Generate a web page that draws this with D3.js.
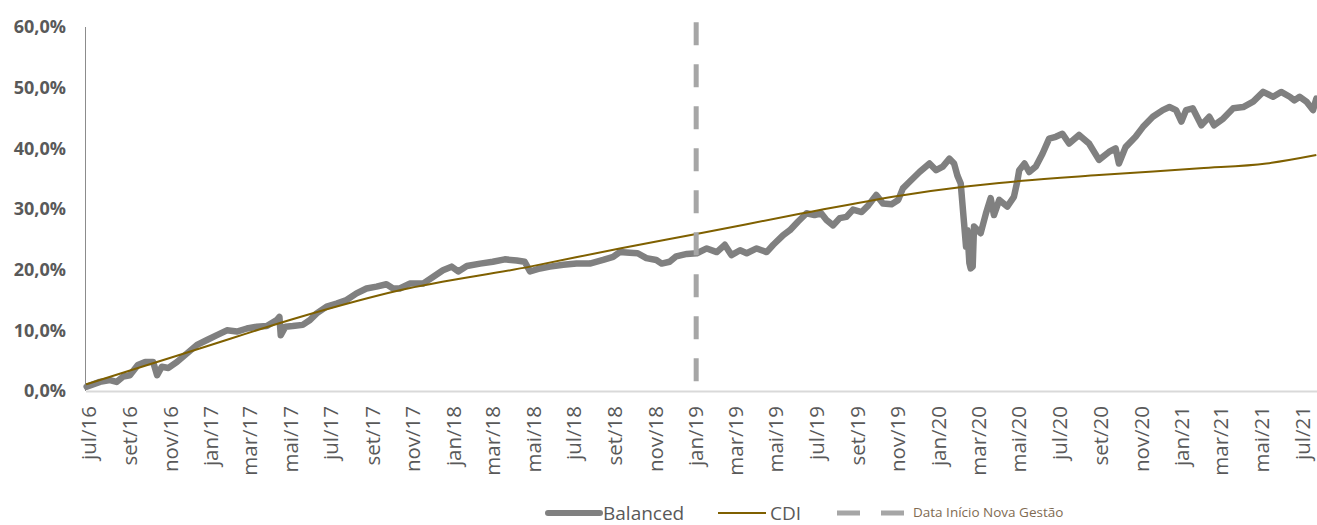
<head>
  <script src="https://d3js.org/d3.v7.min.js"></script>
</head>
<style>
  body { margin: 0; background: #fff; }
  text { font-family: "Open Sans", "Noto Sans", sans-serif; }
</style>
<body>
  <svg id="chart"></svg>
</body>
<script>
  var w = 1317;
  var h = 525;

  // values (cumulative return, %)
  var balanced = [
    ["2016-06-28", 0.7], ["2016-07-18", 1.5], ["2016-08-02", 1.8], ["2016-08-12", 1.5],
    ["2016-08-22", 2.4], ["2016-09-01", 2.6], ["2016-09-13", 4.3], ["2016-09-24", 4.8],
    ["2016-10-06", 4.8], ["2016-10-12", 2.6], ["2016-10-19", 4.0], ["2016-10-29", 3.8],
    ["2016-11-11", 4.8], ["2016-11-26", 6.2], ["2016-12-11", 7.6], ["2016-12-26", 8.4],
    ["2017-01-10", 9.2], ["2017-01-25", 10.0], ["2017-02-09", 9.8], ["2017-02-24", 10.3],
    ["2017-03-11", 10.6], ["2017-03-26", 10.7], ["2017-04-10", 11.7], ["2017-04-14", 12.2],
    ["2017-04-16", 9.2], ["2017-04-23", 10.6], ["2017-05-04", 10.7], ["2017-05-19", 10.9],
    ["2017-05-30", 11.7], ["2017-06-09", 12.8], ["2017-06-24", 13.9], ["2017-07-09", 14.4],
    ["2017-07-24", 15.0], ["2017-08-08", 16.1], ["2017-08-23", 16.9], ["2017-09-07", 17.2],
    ["2017-09-22", 17.6], ["2017-10-02", 16.9], ["2017-10-12", 16.9], ["2017-10-27", 17.7],
    ["2017-11-16", 17.7], ["2017-12-01", 18.8], ["2017-12-16", 19.9], ["2017-12-29", 20.5],
    ["2018-01-08", 19.7], ["2018-01-21", 20.6], ["2018-02-10", 21.0], ["2018-03-01", 21.3],
    ["2018-03-19", 21.7], ["2018-04-06", 21.5], ["2018-04-18", 21.3], ["2018-04-26", 19.7],
    ["2018-05-11", 20.2], ["2018-05-26", 20.5], ["2018-06-15", 20.8], ["2018-07-05", 21.0],
    ["2018-07-25", 21.0], ["2018-08-14", 21.6], ["2018-08-29", 22.1], ["2018-09-08", 22.9],
    ["2018-09-23", 22.8], ["2018-10-05", 22.7], ["2018-10-18", 21.9], ["2018-11-02", 21.6],
    ["2018-11-10", 21.0], ["2018-11-22", 21.3], ["2018-12-02", 22.2], ["2018-12-18", 22.6],
    ["2019-01-02", 22.7], ["2019-01-17", 23.5], ["2019-02-01", 22.9], ["2019-02-13", 24.1],
    ["2019-02-23", 22.4], ["2019-03-08", 23.2], ["2019-03-18", 22.7], ["2019-04-02", 23.5],
    ["2019-04-17", 22.9], ["2019-04-27", 24.1], ["2019-05-12", 25.7], ["2019-05-22", 26.5],
    ["2019-06-03", 27.9], ["2019-06-16", 29.3], ["2019-06-28", 29.0], ["2019-07-08", 29.3],
    ["2019-07-16", 28.2], ["2019-07-26", 27.3], ["2019-08-05", 28.5], ["2019-08-15", 28.7],
    ["2019-08-25", 29.9], ["2019-09-07", 29.5], ["2019-09-17", 30.6], ["2019-09-29", 32.3],
    ["2019-10-09", 30.9], ["2019-10-22", 30.8], ["2019-11-01", 31.5], ["2019-11-08", 33.4],
    ["2019-11-18", 34.5], ["2019-12-03", 36.1], ["2019-12-18", 37.5], ["2019-12-28", 36.4],
    ["2020-01-07", 37.0], ["2020-01-17", 38.3], ["2020-01-24", 37.5], ["2020-01-29", 35.5],
    ["2020-02-03", 34.2], ["2020-02-08", 27.7], ["2020-02-11", 23.8], ["2020-02-13", 26.5],
    ["2020-02-16", 21.1], ["2020-02-18", 20.2], ["2020-02-21", 20.5], ["2020-02-23", 27.1],
    ["2020-03-04", 26.0], ["2020-03-12", 29.3], ["2020-03-19", 31.8], ["2020-03-24", 29.0],
    ["2020-04-01", 31.5], ["2020-04-13", 30.4], ["2020-04-23", 32.0], ["2020-04-28", 34.5],
    ["2020-05-01", 36.4], ["2020-05-09", 37.5], ["2020-05-16", 36.1], ["2020-05-26", 37.0],
    ["2020-06-05", 39.1], ["2020-06-15", 41.6], ["2020-06-25", 41.9], ["2020-07-05", 42.4],
    ["2020-07-15", 40.8], ["2020-07-30", 42.2], ["2020-08-14", 40.8], ["2020-08-29", 38.1],
    ["2020-09-13", 39.4], ["2020-09-23", 40.0], ["2020-09-28", 37.5], ["2020-10-08", 40.2],
    ["2020-10-23", 41.9], ["2020-11-03", 43.5], ["2020-11-18", 45.2], ["2020-12-03", 46.3],
    ["2020-12-13", 46.8], ["2020-12-23", 46.3], ["2020-12-31", 44.4], ["2021-01-07", 46.3],
    ["2021-01-17", 46.6], ["2021-01-30", 43.8], ["2021-02-11", 45.2], ["2021-02-18", 43.8],
    ["2021-03-04", 44.9], ["2021-03-19", 46.6], ["2021-04-03", 46.8], ["2021-04-18", 47.7],
    ["2021-05-03", 49.3], ["2021-05-18", 48.5], ["2021-05-30", 49.3], ["2021-06-12", 48.5],
    ["2021-06-19", 47.9], ["2021-06-27", 48.5], ["2021-07-07", 47.7], ["2021-07-17", 46.3],
    ["2021-07-22", 48.2]
  ];

  var cdi = [
    ["2016-06-27", 1.1], ["2016-10-01", 4.4], ["2016-12-15", 7.0], ["2017-05-15", 12.2],
    ["2017-10-12", 16.6], ["2018-04-26", 20.5], ["2018-09-08", 23.5], ["2019-01-07", 26.0],
    ["2019-06-06", 29.2], ["2019-11-03", 32.2], ["2020-02-11", 33.7], ["2020-04-01", 34.3],
    ["2020-08-29", 35.6], ["2021-01-28", 36.7], ["2021-05-08", 37.5], ["2021-07-22", 38.9]
  ];

  var novaGestao = "2019-01-01";
  var yTicks = [0, 10, 20, 30, 40, 50, 60];
  var monthNames = ["jan", "fev", "mar", "abr", "mai", "jun", "jul", "ago", "set", "out", "nov", "dez"];
  var legendNames = ["Balanced", "CDI", "Data Início Nova Gestão"];

  var parse = d3.timeParse("%Y-%m-%d");

  var x = d3.scaleTime()
      .domain([parse("2016-06-27"), parse("2021-07-23")])
      .range([86, 1317]);
  var y = d3.scaleLinear()
      .domain([0, 60])
      .range([391, 27]);

  var svg = d3.select("svg#chart")
      .attr("width", w)
      .attr("height", h);

  // axes lines
  svg.append("line")
      .attr("x1", 86).attr("x2", 1317)
      .attr("y1", y(0) + 0.5).attr("y2", y(0) + 0.5)
      .style("stroke", "#d9d9d9")
      .style("stroke-width", 2);
  svg.append("line")
      .attr("x1", 85.5).attr("x2", 85.5)
      .attr("y1", y(60)).attr("y2", y(0))
      .style("stroke", "#8c8c8c")
      .style("stroke-width", 1);

  // y labels
  svg.selectAll("text.ylab")
      .data(yTicks)
      .enter().append("text")
      .attr("class", "ylab")
      .attr("x", 66)
      .attr("y", function(d){ return y(d); })
      .attr("dy", "0.35em")
      .attr("text-anchor", "end")
      .style("font-size", "18px")
      .style("font-weight", "bold")
      .style("fill", "#595959")
      .text(function(d){ return d.toFixed(1).replace(".", ",") + "%"; });

  // x labels, every two months
  var xTicks = d3.timeMonth.every(2).range(parse("2016-07-01"), parse("2021-07-02"));
  svg.selectAll("text.xlab")
      .data(xTicks)
      .enter().append("text")
      .attr("class", "xlab")
      .attr("transform", function(d){ return "translate(" + x(d) + ",406) rotate(-90)"; })
      .attr("dy", "0.35em")
      .attr("text-anchor", "end")
      .style("font-size", "20.5px")
      .style("fill", "#595959")
      .text(function(d){ return monthNames[d.getMonth()] + "/" + d3.timeFormat("%y")(d); });

  var line = d3.line()
      .x(function(d){ return x(parse(d[0])); })
      .y(function(d){ return y(d[1]); });

  svg.append("path")
      .datum(balanced)
      .attr("d", line)
      .style("fill", "none")
      .style("stroke", "#808080")
      .style("stroke-width", 6.5)
      .style("stroke-linejoin", "round")
      .style("stroke-linecap", "round");

  svg.append("path")
      .datum(cdi)
      .attr("d", line.curve(d3.curveMonotoneX))
      .style("fill", "none")
      .style("stroke", "#7f6000")
      .style("stroke-width", 2);

  // start of new management
  svg.append("line")
      .attr("x1", x(parse(novaGestao))).attr("x2", x(parse(novaGestao)))
      .attr("y1", y(60.8)).attr("y2", y(0))
      .style("stroke", "#a6a6a6")
      .style("stroke-width", 5)
      .style("stroke-dasharray", "23,19");

  // legend
  var ly = 513;
  var legend = svg.append("g");
  legend.append("line")
      .attr("x1", 548).attr("x2", 600).attr("y1", ly).attr("y2", ly)
      .style("stroke", "#808080").style("stroke-width", 6).style("stroke-linecap", "round");
  legend.append("text")
      .attr("x", 603).attr("y", ly).attr("dy", "0.35em")
      .style("font-size", "19px").style("fill", "#595959")
      .text(legendNames[0]);
  legend.append("line")
      .attr("x1", 718).attr("x2", 766).attr("y1", ly).attr("y2", ly)
      .style("stroke", "#7f6000").style("stroke-width", 2);
  legend.append("text")
      .attr("x", 770).attr("y", ly).attr("dy", "0.35em")
      .style("font-size", "19px").style("fill", "#595959")
      .text(legendNames[1]);
  legend.append("line")
      .attr("x1", 837).attr("x2", 905).attr("y1", ly).attr("y2", ly)
      .style("stroke", "#a6a6a6").style("stroke-width", 5)
      .style("stroke-dasharray", "23,21");
  legend.append("text")
      .attr("x", 913).attr("y", ly - 1).attr("dy", "0.35em")
      .style("font-size", "13.5px").style("fill", "#7f6b52")
      .text(legendNames[2]);
</script>
